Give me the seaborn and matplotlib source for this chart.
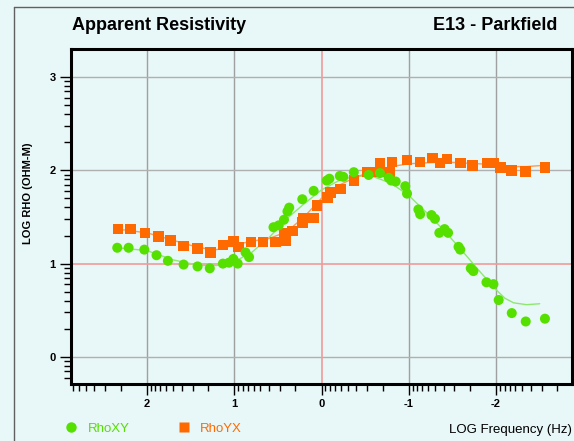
import numpy as np
import pandas as pd
import matplotlib
matplotlib.use("Agg")
import matplotlib.pyplot as plt
from matplotlib.lines import Line2D
from matplotlib.ticker import FixedLocator, NullFormatter
import seaborn as sns

# ---------------- data ----------------
logf_xy = [2.34, 2.21, 2.03, 1.89, 1.76, 1.58, 1.42, 1.28, 1.13, 1.06, 1.01, 0.96,
           0.87, 0.83, 0.55, 0.49, 0.43, 0.39, 0.37, 0.22, 0.09, -0.06, -0.09,
           -0.21, -0.25, -0.37, -0.54, -0.67, -0.77, -0.80, -0.85, -0.96, -0.98,
           -1.11, -1.13, -1.26, -1.30, -1.35, -1.41, -1.45, -1.57, -1.59, -1.71,
           -1.74, -1.89, -1.97, -2.03, -2.18, -2.34, -2.56]
logrho_xy = [1.17, 1.17, 1.15, 1.09, 1.03, 0.99, 0.97, 0.95, 1.00, 1.01, 1.05, 1.00,
             1.12, 1.07, 1.39, 1.41, 1.47, 1.56, 1.60, 1.69, 1.78, 1.89, 1.91,
             1.94, 1.93, 1.98, 1.95, 1.97, 1.92, 1.89, 1.88, 1.83, 1.75,
             1.58, 1.53, 1.52, 1.48, 1.33, 1.37, 1.33, 1.18, 1.15, 0.95,
             0.92, 0.80, 0.78, 0.61, 0.47, 0.38, 0.41]

logf_yx = [2.33, 2.19, 2.02, 1.87, 1.73, 1.58, 1.42, 1.27, 1.13, 1.01, 0.95, 0.81,
           0.67, 0.53, 0.41, 0.43, 0.33, 0.22, 0.21, 0.09, 0.05, -0.07, -0.10,
           -0.22, -0.37, -0.53, -0.65, -0.67, -0.78, -0.81, -0.98, -1.13, -1.27,
           -1.36, -1.44, -1.59, -1.73, -1.90, -1.97, -2.05, -2.18, -2.34, -2.56]
logrho_yx = [1.37, 1.37, 1.33, 1.29, 1.25, 1.19, 1.16, 1.12, 1.20, 1.24, 1.18, 1.23,
             1.23, 1.23, 1.25, 1.33, 1.35, 1.44, 1.49, 1.49, 1.62, 1.71, 1.76,
             1.80, 1.89, 1.98, 1.98, 2.08, 1.98, 2.09, 2.11, 2.09, 2.13,
             2.08, 2.12, 2.08, 2.05, 2.08, 2.08, 2.03, 2.00, 1.99, 2.03]

model_logf = [2.34, 2.0, 1.7, 1.4, 1.2, 1.0, 0.8, 0.6, 0.4, 0.2, 0.0, -0.2, -0.4,
              -0.6, -0.8, -1.0, -1.2, -1.4, -1.6, -1.8, -2.0, -2.1, -2.2, -2.35, -2.5]
model_xy = [1.17, 1.14, 1.04, 0.98, 0.98, 1.02, 1.12, 1.28, 1.48, 1.64, 1.79, 1.89, 1.94,
            1.93, 1.86, 1.73, 1.55, 1.36, 1.15, 0.93, 0.72, 0.63, 0.58, 0.56, 0.57]
model_yx = [1.37, 1.33, 1.25, 1.17, 1.15, 1.20, 1.24, 1.27, 1.34, 1.50, 1.70, 1.84, 1.93,
            1.99, 2.04, 2.07, 2.08, 2.09, 2.08, 2.07, 2.06, 2.05, 2.04, 2.04, 2.05]

x_ticks = [2, 1, 0, -1, -2]
y_ticks = [0, 1, 2, 3]

# ---------------- style ----------------
sns.set_style("white")
plt.rcParams['font.family'] = ['Liberation Sans', 'DejaVu Sans']
plt.rcParams['text.color'] = 'black'
plt.rcParams['axes.labelcolor'] = 'black'
plt.rcParams['xtick.color'] = 'black'
plt.rcParams['ytick.color'] = 'black'

BG = '#e8f7f7'
GREEN = '#55e000'
ORANGE = '#ff6a00'
GREEN_LINE = '#8ee870'
ORANGE_LINE = '#ff9a55'

W, H = 574, 441
fig = plt.figure(figsize=(W / 100, H / 100), dpi=100, facecolor=BG)
ax = fig.add_axes([71 / W, (H - 384) / H, (572 - 71) / W, (384 - 49) / H])
ax.set_facecolor(BG)

xlim = (2.87, -2.87)
ylim = (-0.29, 3.30)

# grid
for gx in [2, 1, -1, -2]:
    ax.axvline(gx, color='#a0a0a0', lw=1.0, zorder=0)
for gy in [0, 2, 3]:
    ax.axhline(gy, color='#b0b0b0', lw=1.0, zorder=0)
ax.axvline(0, color='#f29a9a', lw=1.2, zorder=0)
ax.axhline(1, color='#f29a9a', lw=1.2, zorder=0)

df_xy = pd.DataFrame({'f': logf_xy, 'rho': logrho_xy})
df_yx = pd.DataFrame({'f': logf_yx, 'rho': logrho_yx})
df_m = pd.DataFrame({'f': model_logf, 'xy': model_xy, 'yx': model_yx})

sns.lineplot(data=df_m, x='f', y='xy', ax=ax, color=GREEN_LINE, lw=1.0, sort=False, zorder=2)
sns.lineplot(data=df_m, x='f', y='yx', ax=ax, color=ORANGE_LINE, lw=1.0, sort=False, zorder=2)
sns.scatterplot(data=df_yx, x='f', y='rho', ax=ax, marker='s', s=58, color=ORANGE,
                edgecolor='none', zorder=3)
sns.scatterplot(data=df_xy, x='f', y='rho', ax=ax, marker='o', s=52, color=GREEN,
                edgecolor='none', zorder=4)

ax.set_xlim(*xlim)
ax.set_ylim(*ylim)
ax.set_xlabel('')
ax.set_ylabel('')

# ticks
ax.xaxis.set_major_locator(FixedLocator(x_ticks))
ax.yaxis.set_major_locator(FixedLocator(y_ticks))
ax.set_xticklabels([str(t) for t in x_ticks])
ax.set_yticklabels([str(t) for t in y_ticks])
logk = np.log10(np.arange(2, 10))
xminor = [d + k for d in range(-3, 3) for k in logk if xlim[1] <= d + k <= xlim[0]]
yminor = [d + k for d in range(-1, 4) for k in logk if ylim[0] <= d + k <= ylim[1]]
ax.xaxis.set_minor_locator(FixedLocator(xminor))
ax.yaxis.set_minor_locator(FixedLocator(yminor))
ax.xaxis.set_minor_formatter(NullFormatter())
ax.yaxis.set_minor_formatter(NullFormatter())
ax.tick_params(which='major', direction='out', length=8, width=1.0, color='black',
               labelcolor='black', labelsize=8, pad=3, bottom=True, left=True)
ax.tick_params(which='minor', direction='out', length=5, width=1.0, color='black',
               bottom=True, left=True)
for lab in ax.get_xticklabels() + ax.get_yticklabels():
    lab.set_fontweight('bold')

for sp in ax.spines.values():
    sp.set_visible(True)
    sp.set_color('black')
    sp.set_linewidth(2.2)

# outer frame
fig.add_artist(Line2D([14 / W, 14 / W], [0, 1 - 7 / H], transform=fig.transFigure,
                      color='#606060', lw=1.0))
fig.add_artist(Line2D([14 / W, 1], [1 - 7 / H, 1 - 7 / H], transform=fig.transFigure,
                      color='#606060', lw=1.0))

# titles
fig.text(72 / W, 1 - 30 / H, 'Apparent Resistivity', fontsize=13, fontweight='bold',
         color='black', ha='left', va='baseline')
fig.text(557 / W, 1 - 30 / H, 'E13 - Parkfield', fontsize=13, fontweight='bold',
         color='black', ha='right', va='baseline')
fig.text(28 / W, 1 - 193 / H, 'LOG RHO (OHM-M)', fontsize=8, fontweight='bold',
         color='black', rotation=90, ha='center', va='center')
fig.text(572 / W, 1 - 433 / H, 'LOG Frequency (Hz)', fontsize=9.5, color='black',
         ha='right', va='baseline')

# legend
fig.add_artist(Line2D([71 / W], [1 - 427 / H], marker='o', markersize=7.5, color=GREEN,
                      markeredgecolor='none', transform=fig.transFigure))
fig.text(88 / W, 1 - 432 / H, 'RhoXY', fontsize=9.5, color=GREEN, ha='left', va='baseline')
fig.add_artist(Line2D([184 / W], [1 - 427 / H], marker='s', markersize=7.5, color=ORANGE,
                      markeredgecolor='none', transform=fig.transFigure))
fig.text(200 / W, 1 - 432 / H, 'RhoYX', fontsize=9.5, color=ORANGE, ha='left', va='baseline')

fig.savefig('out.png', dpi=100, facecolor=BG)
